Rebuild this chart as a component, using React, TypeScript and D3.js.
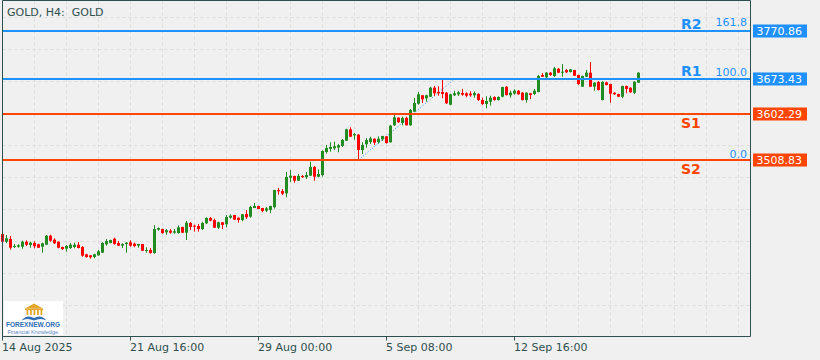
import React from 'react';
import * as d3 from 'd3';

const width = 820;
const height = 360;

// H4 candles (one value per bar)
const opens = [
  3358.6, 3342.9, 3348.4, 3332.2, 3332.8, 3332.8, 3342.9, 3336.2, 3340.3, 3337.7,
  3332.8, 3336.9, 3355.1, 3347.0, 3342.9, 3332.2, 3328.7, 3330.1, 3332.2, 3336.8,
  3332.2, 3317.3, 3315.3, 3311.9, 3315.3, 3320.6, 3337.7, 3340.3, 3349.0, 3340.3,
  3334.9, 3338.3, 3341.7, 3338.9, 3334.9, 3338.3, 3324.1, 3326.1, 3320.0, 3367.4,
  3368.7, 3362.0, 3365.3, 3361.2, 3360.6, 3372.8, 3361.2, 3380.9, 3375.5, 3374.9,
  3368.7, 3380.3, 3391.1, 3387.0, 3371.4, 3382.3, 3378.3, 3391.7, 3397.1, 3391.7,
  3387.0, 3399.3, 3393.8, 3411.4, 3415.5, 3411.4, 3405.9, 3407.3, 3413.0, 3447.9,
  3445.9, 3441.2, 3472.9, 3476.4, 3466.8, 3476.4, 3473.9, 3477.0, 3494.7, 3475.0,
  3478.4, 3525.1, 3531.3, 3532.7, 3534.0, 3537.4, 3548.1, 3571.2, 3559.0, 3560.3,
  3529.2, 3540.8, 3545.4, 3552.1, 3545.4, 3550.9, 3557.0, 3544.8, 3579.5, 3594.9,
  3584.1, 3594.3, 3579.4, 3607.0, 3623.2, 3640.3, 3634.2, 3637.4, 3655.7, 3647.0,
  3647.0, 3645.6, 3621.2, 3640.3, 3642.3, 3645.0, 3644.3, 3643.6, 3640.3, 3642.9,
  3630.7, 3622.6, 3627.3, 3636.8, 3630.7, 3637.4, 3657.7, 3640.3, 3643.6, 3649.6,
  3645.6, 3630.7, 3644.3, 3642.9, 3647.0, 3681.5, 3676.8, 3686.2, 3679.5, 3694.3,
  3687.0, 3691.7, 3687.6, 3691.7, 3681.5, 3657.8, 3678.1, 3686.2, 3657.8, 3667.3,
  3630.7, 3666.7, 3663.2, 3645.6, 3642.9, 3637.4, 3659.2, 3655.7, 3645.6, 3665.9,
];
const highs = [
  3359.5, 3356.5, 3354.5, 3338.3, 3337.7, 3344.9, 3345.8, 3342.9, 3343.7, 3338.9,
  3340.9, 3356.5, 3357.1, 3349.8, 3343.5, 3332.6, 3336.2, 3340.3, 3340.9, 3342.3,
  3334.2, 3318.5, 3316.0, 3318.5, 3326.1, 3341.7, 3348.4, 3347.0, 3351.1, 3344.4,
  3339.7, 3342.3, 3345.8, 3340.9, 3338.5, 3338.5, 3331.6, 3330.1, 3376.8, 3372.1,
  3369.3, 3368.7, 3368.7, 3368.7, 3376.2, 3373.4, 3385.0, 3383.0, 3377.6, 3379.0,
  3383.6, 3392.5, 3393.1, 3389.6, 3383.6, 3382.5, 3397.1, 3398.6, 3397.5, 3392.0,
  3399.3, 3407.3, 3415.5, 3421.5, 3416.0, 3411.6, 3413.4, 3416.0, 3448.5, 3452.0,
  3449.9, 3484.5, 3488.6, 3477.0, 3480.4, 3478.4, 3484.5, 3505.4, 3496.6, 3490.0,
  3528.6, 3539.4, 3544.9, 3546.1, 3541.4, 3551.5, 3572.5, 3575.3, 3563.7, 3561.7,
  3544.9, 3553.5, 3556.2, 3552.9, 3557.0, 3558.0, 3557.5, 3580.1, 3600.4, 3595.3,
  3596.9, 3596.9, 3612.4, 3634.8, 3647.0, 3640.7, 3641.5, 3657.7, 3659.2, 3658.5,
  3671.3, 3647.0, 3643.5, 3649.6, 3649.0, 3653.1, 3646.4, 3648.4, 3648.4, 3644.4,
  3635.4, 3638.2, 3639.4, 3638.2, 3638.2, 3657.7, 3659.1, 3649.6, 3652.5, 3651.0,
  3647.0, 3646.0, 3645.0, 3653.1, 3681.5, 3685.6, 3687.6, 3687.6, 3697.8, 3695.7,
  3703.8, 3693.7, 3693.7, 3692.0, 3682.0, 3680.2, 3691.7, 3707.9, 3667.3, 3669.0,
  3669.0, 3668.0, 3664.0, 3646.3, 3643.5, 3660.0, 3660.0, 3656.5, 3668.6, 3687.0,
];
const lows = [
  3342.3, 3340.0, 3326.7, 3330.1, 3330.7, 3328.7, 3334.2, 3330.7, 3329.5, 3330.1,
  3320.6, 3336.3, 3342.9, 3338.3, 3329.5, 3326.1, 3322.8, 3328.1, 3329.5, 3329.5,
  3312.5, 3310.4, 3308.6, 3309.2, 3314.5, 3320.0, 3334.9, 3339.7, 3336.8, 3333.9,
  3330.1, 3320.6, 3332.8, 3331.6, 3330.7, 3324.1, 3320.6, 3318.5, 3318.5, 3365.3,
  3359.2, 3357.1, 3359.2, 3359.2, 3359.2, 3360.6, 3346.4, 3366.7, 3363.4, 3363.4,
  3366.7, 3379.0, 3384.4, 3370.8, 3368.7, 3368.7, 3372.2, 3389.6, 3387.0, 3381.6,
  3384.4, 3389.0, 3391.7, 3411.0, 3409.0, 3402.6, 3403.3, 3401.3, 3410.2, 3438.4,
  3437.8, 3433.1, 3464.2, 3462.8, 3466.2, 3472.4, 3470.3, 3476.4, 3466.8, 3473.7,
  3475.0, 3521.8, 3525.8, 3529.2, 3524.5, 3535.3, 3547.5, 3555.6, 3550.1, 3508.9,
  3521.1, 3533.9, 3541.4, 3539.4, 3542.0, 3547.5, 3542.0, 3544.4, 3578.1, 3584.1,
  3579.4, 3578.6, 3578.6, 3606.4, 3621.2, 3624.6, 3627.3, 3636.8, 3638.8, 3639.4,
  3634.2, 3622.6, 3620.0, 3638.8, 3638.8, 3639.4, 3636.2, 3637.4, 3635.4, 3628.7,
  3620.6, 3614.0, 3619.2, 3629.4, 3629.4, 3636.2, 3639.5, 3635.4, 3641.5, 3641.5,
  3629.7, 3625.3, 3632.8, 3640.9, 3646.4, 3677.5, 3675.5, 3679.5, 3677.5, 3685.6,
  3678.1, 3685.6, 3686.6, 3679.5, 3661.2, 3657.1, 3677.5, 3657.1, 3649.6, 3650.0,
  3630.0, 3660.5, 3625.2, 3641.0, 3636.8, 3634.2, 3644.3, 3645.5, 3642.9, 3665.2,
];
const closes = [
  3342.9, 3349.8, 3330.7, 3334.2, 3335.6, 3342.9, 3336.8, 3340.9, 3333.6, 3330.7,
  3339.7, 3355.1, 3345.0, 3339.7, 3330.7, 3328.1, 3334.2, 3336.8, 3336.8, 3330.1,
  3314.5, 3311.9, 3311.2, 3317.3, 3323.4, 3340.3, 3344.4, 3346.4, 3338.3, 3334.9,
  3338.3, 3340.9, 3334.9, 3334.2, 3338.3, 3324.7, 3326.1, 3320.0, 3368.7, 3370.7,
  3360.6, 3366.1, 3361.2, 3364.1, 3372.2, 3361.2, 3381.5, 3372.8, 3373.5, 3368.7,
  3380.9, 3391.1, 3385.6, 3371.4, 3382.3, 3376.9, 3393.1, 3395.7, 3387.6, 3387.0,
  3398.6, 3392.5, 3413.4, 3415.5, 3409.3, 3405.3, 3410.7, 3415.5, 3447.9, 3445.3,
  3440.5, 3474.3, 3477.0, 3466.8, 3476.4, 3473.9, 3478.4, 3494.7, 3475.0, 3480.4,
  3527.1, 3533.3, 3535.3, 3536.8, 3538.8, 3549.5, 3571.2, 3556.2, 3561.7, 3529.2,
  3539.4, 3549.5, 3552.9, 3544.0, 3552.1, 3557.6, 3543.4, 3578.6, 3595.7, 3585.6,
  3594.3, 3579.4, 3610.4, 3624.6, 3642.3, 3632.1, 3640.3, 3655.7, 3644.3, 3644.3,
  3643.0, 3624.0, 3642.3, 3644.3, 3646.4, 3641.5, 3639.4, 3640.3, 3645.0, 3630.7,
  3622.6, 3628.7, 3635.4, 3630.7, 3636.8, 3657.1, 3640.9, 3645.6, 3649.6, 3642.3,
  3630.7, 3645.6, 3640.9, 3649.6, 3679.5, 3678.1, 3686.2, 3681.5, 3695.1, 3686.2,
  3688.2, 3687.0, 3693.1, 3680.1, 3663.2, 3679.5, 3686.2, 3657.8, 3665.9, 3651.0,
  3667.3, 3661.2, 3643.5, 3642.3, 3637.4, 3659.2, 3653.1, 3646.4, 3667.9, 3686.2,
];

const timeLabels = ['14 Aug 2025', '21 Aug 16:00', '29 Aug 00:00', '5 Sep 08:00', '12 Sep 16:00'];
const timeLabelBars = [0, 32, 64, 96, 128];

const levelNames = ['R2', 'R1', 'S1', 'S2'];
const levelPrices = [3770.86, 3673.43, 3602.29, 3508.83];

// fibo drawn from the low at bar 89 up to bar 113
const fibBars = [89, 113];
const fibPrices = [3508.83, 3673.43];
const fibLevels = [0, 100, 161.8];

const bg = '#F0F0F0';
const fg = '#2F4F4F';
const bull = '#228B22';
const bear = '#FF0000';
const blue = '#1E90FF';
const orange = '#FF4500';
const font = 'DejaVu Sans, Verdana, sans-serif';

const left = 2.5;
const top = 0.5;
const right = 750.5;
const bottom = 336.5;

export default function App() {
  const x = d3.scaleLinear().domain([0, 187]).range([2.5, 750.5]);
  const y = d3.scaleLinear().domain([3151.4, 3831.8]).range([336, 1]);

  const gridPrices = d3.range(3215, 3830, 65);
  const gridBars = d3.range(8, 187, 8);

  const fibPath = d3.line()([
    [x(fibBars[0]), y(fibPrices[0])],
    [x(fibBars[1]), y(fibPrices[1])],
  ]);
  const fibPrice = (lv: number) => fibPrices[0] + (fibPrices[1] - fibPrices[0]) * lv / 100;

  return (
    <svg width={width} height={height} style={{ position: 'fixed', left: 0, top: 0, display: 'block' }}>
      <rect width={width} height={height} fill={bg} />

      {/* grid */}
      <g stroke="#DCDCDC" strokeDasharray="3 3" strokeWidth={1}>
        {gridPrices.map(p => (
          <line key={'h' + p} x1={left} x2={right} y1={Math.round(y(p)) + 0.5} y2={Math.round(y(p)) + 0.5} />
        ))}
        {gridBars.map(b => (
          <line key={'v' + b} x1={x(b)} x2={x(b)} y1={top} y2={bottom} />
        ))}
      </g>

      {/* fibo trend line */}
      <path d={fibPath || ''} stroke={blue} strokeWidth={1} strokeDasharray="1 2" fill="none" />

      {/* candles */}
      <g>
        {opens.map((o, i) => {
          const c = closes[i];
          const col = c >= o ? bull : bear;
          const yTop = y(Math.max(o, c));
          const yBot = y(Math.min(o, c));
          return (
            <g key={i}>
              <line x1={x(i)} x2={x(i)} y1={y(highs[i])} y2={y(lows[i])} stroke={col} strokeWidth={1} />
              <rect x={x(i) - 1.5} y={yTop} width={3} height={Math.max(1, yBot - yTop)} fill={col} />
            </g>
          );
        })}
      </g>

      {/* support / resistance lines */}
      {levelPrices.map((p, k) => {
        const col = levelNames[k][0] === 'R' ? blue : orange;
        const ly = y(p);
        return (
          <g key={levelNames[k]}>
            <line x1={left} x2={right} y1={ly} y2={ly} stroke={col} strokeWidth={2} />
            <text
              x={681}
              y={levelNames[k][0] === 'R' ? ly - 2.5 : ly + 14}
              fill={col}
              fontFamily={font}
              fontWeight="bold"
              fontSize={14}
            >
              {levelNames[k]}
            </text>
            <rect x={753} y={ly - 6.5} width={54} height={13} fill={col} />
            <text x={756.5} y={ly + 4} fill="#FFFFFF" fontFamily={font} fontSize={11}>
              {p.toFixed(2)}
            </text>
          </g>
        );
      })}

      {/* fibo level labels */}
      {fibLevels.map(lv => (
        <text
          key={lv}
          x={747}
          y={y(fibPrice(lv)) - 2.5}
          textAnchor="end"
          fill={blue}
          fontFamily={font}
          fontSize={11}
        >
          {lv.toFixed(1)}
        </text>
      ))}

      {/* frame */}
      <path
        d={`M${left},${bottom}V${top}H${right}V${bottom}Z`}
        fill="none"
        stroke={fg}
        strokeWidth={1}
      />

      {/* time axis */}
      {timeLabelBars.map((b, k) => (
        <g key={b}>
          <line x1={x(b)} x2={x(b)} y1={bottom} y2={bottom + 4} stroke={fg} />
          <text x={x(b) - 0.5} y={351} fill={fg} fontFamily={font} fontSize={11}>
            {timeLabels[k]}
          </text>
        </g>
      ))}

      {/* title */}
      <text x={7} y={16} fill={fg} fontFamily={font} fontSize={11}>
        {'GOLD, H4:\u00A0 GOLD'}
      </text>

      {/* logo */}
      <g>
        <rect x={4} y={301} width={59} height={34} fill="#FFFFFF" />
        <polygon points="25,308.5 34,303.5 43,308.5" fill="#E3A52A" />
        <rect x={25} y={308.5} width={18} height={1.5} fill="#E3A52A" />
        {d3.range(5).map(k => (
          <rect key={k} x={26.5 + k * 3.5} y={310} width={1.8} height={5} fill="#E3A52A" />
        ))}
        <path d="M21.5,320.5 Q27,314 34,318 Q41,314 46.5,320.5 Q41,317.5 34,320.5 Q27,317.5 21.5,320.5Z" fill="#2F6DB5" />
        <text
          x={6}
          y={327}
          fill="#2D6DB5"
          fontFamily="Liberation Sans, Arial, sans-serif"
          fontWeight="bold"
          fontSize={7}
          textLength={54}
          lengthAdjust="spacingAndGlyphs"
        >
          FOREXNEW.ORG
        </text>
        <text
          x={7.5}
          y={333.5}
          fill="#5A86BF"
          fontFamily="Liberation Sans, Arial, sans-serif"
          fontSize={4.8}
          textLength={52}
          lengthAdjust="spacingAndGlyphs"
        >
          Financial Knowledge.
        </text>
      </g>
    </svg>
  );
}
